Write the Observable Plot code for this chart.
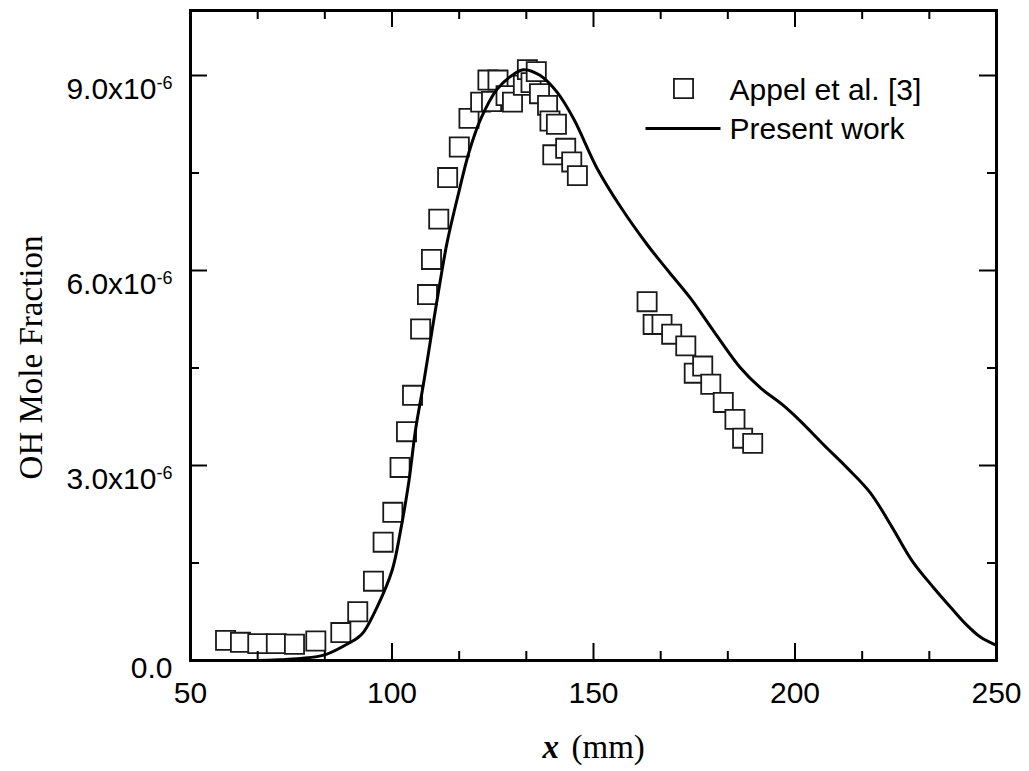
<!DOCTYPE html>
<html>
<head>
<meta charset="utf-8">
<script src="https://cdn.jsdelivr.net/npm/d3@7"></script>
<script src="https://cdn.jsdelivr.net/npm/@observablehq/plot@0.6"></script>
<style>
  html, body { margin: 0; padding: 0; background: #fff; }
</style>
</head>
<body>
<div id="chart"></div>
<script>
// ---- Data (y values in units of 1e-6) ----
// Appel et al. [3] measurements
const expX = [58.7, 62.4, 66.7, 71.3, 75.8, 81.1, 87.3, 91.5, 95.4, 97.8, 100.2, 102.0, 103.6, 105.1,
  107.1, 108.8, 109.8, 111.6, 113.8, 116.7, 119.1, 122.0, 123.8, 124.7, 126.3, 128.3, 129.9, 132.6,
  133.6, 134.5, 135.8, 136.6, 138.6, 139.2, 139.9, 140.8, 143.1, 144.6, 146.0,
  163.3, 164.8, 167.0, 169.4, 172.9, 175.0, 177.1, 179.1, 182.2, 185.1, 187.0, 189.5];
const expY = [0.31, 0.28, 0.26, 0.26, 0.25, 0.30, 0.43, 0.75, 1.22, 1.82, 2.28, 2.97, 3.52, 4.08,
  5.10, 5.63, 6.17, 6.79, 7.43, 7.90, 8.34, 8.59, 8.93, 8.60, 8.93, 8.69, 8.59, 8.85,
  9.09, 8.89, 9.06, 8.72, 8.54, 8.30, 7.78, 8.25, 7.88, 7.67, 7.46,
  5.52, 5.17, 5.17, 5.02, 4.84, 4.42, 4.53, 4.25, 3.97, 3.71, 3.42, 3.34];

// Present work (simulation)
const simX = [60, 66.7, 72, 77.3, 83.5, 89.7, 91.5, 93.0, 96.3, 100.0, 102.1, 104.2, 105.8, 107.9,
  110.0, 112.0, 113.7, 116.6, 119.1, 122.0, 126.1, 130.2, 132.7, 136.8, 141.0, 145.1, 150.9, 156.7,
  163.3, 168.7, 174.1, 179.9, 186.5, 191.5, 196.8, 201.4, 207.1, 213.0, 218.7, 224.0, 229.1, 234.4,
  238.6, 242.7, 246.0, 249.7];
const simY = [0.0, 0.0, 0.01, 0.03, 0.09, 0.28, 0.35, 0.44, 0.82, 1.38, 1.99, 2.76, 3.53, 4.29,
  5.10, 5.85, 6.44, 7.21, 7.82, 8.33, 8.79, 9.02, 9.09, 9.00, 8.74, 8.33, 7.57, 6.98,
  6.40, 5.98, 5.57, 5.06, 4.50, 4.19, 3.94, 3.68, 3.32, 2.96, 2.58, 2.06, 1.53, 1.12,
  0.82, 0.54, 0.36, 0.24];

// Axes
const xTicks = [50, 100, 150, 200, 250];
const xMinorTicks = [66.67, 83.33, 116.67, 133.33, 166.67, 183.33, 216.67, 233.33];
const yTicks = [0, 3, 6, 9];
const yTickLabels = ["0.0", "3.0x10|-6", "6.0x10|-6", "9.0x10|-6"];
const yMinorTicks = [1.5, 4.5, 7.5];

const legendLabels = ["Appel et al. [3]", "Present work"];
const xTitleVar = "x";
const xTitleUnit = "(mm)";
const yTitle = "OH Mole Fraction";

// ---- Build tables ----
const exp = expX.map((x, i) => ({x, y: expY[i]}));
const sim = simX.map((x, i) => ({x, y: simY[i]}));

const W = 1029, H = 771;
const mL = 190, mR = 33, mT = 10, mB = 111;
const innerW = W - mL - mR, innerH = H - mT - mB;
const MAJ = 17, MIN = 9;
const SANS = "'Liberation Sans', Arial, sans-serif";
const SERIF = "'Liberation Serif', 'Times New Roman', serif";

const hline = {draw(ctx) { ctx.moveTo(-37.5, 0); ctx.lineTo(37.5, 0); }};

const svg = Plot.plot({
  width: W, height: H,
  marginLeft: mL, marginRight: mR, marginTop: mT, marginBottom: mB,
  style: {background: "#fff", color: "#000", fontFamily: SANS},
  x: {domain: [50, 250]},
  y: {domain: [0, 10]},
  marks: [
    // data
    Plot.dot(exp, {x: "x", y: "y", symbol: "square", r: 10.8, stroke: "#1a1a1a", strokeWidth: 1.8, fill: "#fff"}),
    Plot.line(sim, {x: "x", y: "y", stroke: "#000", strokeWidth: 3, curve: "catmull-rom"}),
    // inward ticks on all four sides
    Plot.tickX(xTicks, {x: d => d, insetTop: innerH - MAJ, stroke: "#000", strokeWidth: 2}),
    Plot.tickX(xTicks, {x: d => d, insetBottom: innerH - MAJ, stroke: "#000", strokeWidth: 2}),
    Plot.tickX(xMinorTicks, {x: d => d, insetTop: innerH - MIN, stroke: "#000", strokeWidth: 2}),
    Plot.tickX(xMinorTicks, {x: d => d, insetBottom: innerH - MIN, stroke: "#000", strokeWidth: 2}),
    Plot.tickY(yTicks, {y: d => d, insetRight: innerW - MAJ, stroke: "#000", strokeWidth: 2}),
    Plot.tickY(yTicks, {y: d => d, insetLeft: innerW - MAJ, stroke: "#000", strokeWidth: 2}),
    Plot.tickY(yMinorTicks, {y: d => d, insetRight: innerW - MIN, stroke: "#000", strokeWidth: 2}),
    Plot.tickY(yMinorTicks, {y: d => d, insetLeft: innerW - MIN, stroke: "#000", strokeWidth: 2}),
    Plot.frame({stroke: "#000", strokeWidth: 3}),
    // tick labels
    Plot.axisX({ticks: xTicks, tickSize: 0, tickPadding: 21, fontSize: 30, fontFamily: SANS, label: null,
      tickFormat: d => String(d)}),
    Plot.axisY({ticks: yTicks, tickSize: 0, tickPadding: 18, fontSize: 30, fontFamily: SANS, label: null,
      tickFormat: d => yTickLabels[yTicks.indexOf(d)]}),
    // axis titles
    Plot.text([xTitleVar], {frameAnchor: "bottom", text: d => d, textAnchor: "start", lineAnchor: "middle",
      dx: -51, dy: 87, fontFamily: SERIF, fontSize: 33, fontStyle: "italic", fontWeight: "bold", fill: "#000"}),
    Plot.text([xTitleUnit], {frameAnchor: "bottom", text: d => d, textAnchor: "start", lineAnchor: "middle",
      dx: -22, dy: 87, fontFamily: SERIF, fontSize: 33, fill: "#000"}),
    Plot.text([yTitle], {frameAnchor: "left", text: d => d, rotate: -90, textAnchor: "middle", lineAnchor: "middle",
      dx: -159, dy: 22, fontFamily: SERIF, fontSize: 33, fill: "#000"}),
    // legend
    Plot.dot([0], {frameAnchor: "top-right", dx: -313, dy: 78, symbol: "square", r: 10.8,
      stroke: "#1a1a1a", strokeWidth: 1.8, fill: "#fff"}),
    Plot.text([legendLabels[0]], {frameAnchor: "top-right", text: d => d, textAnchor: "start", lineAnchor: "middle",
      dx: -267, dy: 79.4, fontSize: 30, fontFamily: SANS, fill: "#000"}),
    Plot.dot([0], {frameAnchor: "top-right", dx: -313.5, dy: 118, symbol: hline, stroke: "#000", strokeWidth: 3}),
    Plot.text([legendLabels[1]], {frameAnchor: "top-right", text: d => d, textAnchor: "start", lineAnchor: "middle",
      dx: -267, dy: 118.4, fontSize: 30, fontFamily: SANS, fill: "#000"})
  ]
});

// superscript exponents in y tick labels
d3.select(svg).selectAll('g[aria-label="y-axis tick label"] text').each(function () {
  const t = d3.select(this);
  const s = t.text();
  if (s.includes("|")) {
    const [base, sup] = s.split("|");
    t.text(null);
    t.append("tspan").text(base);
    t.append("tspan").attr("dy", "-0.55em").attr("font-size", "18px").text(sup);
    t.attr("dy", "0.47em");
  } else {
    t.attr("dy", "0.25em");
  }
});

document.getElementById("chart").appendChild(svg);
</script>
</body>
</html>
